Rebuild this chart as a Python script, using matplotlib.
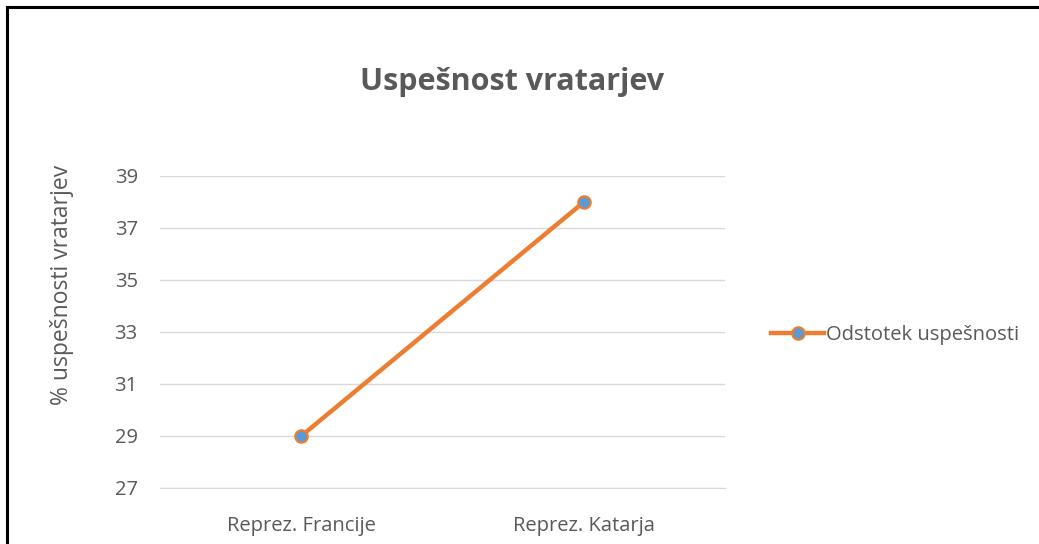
import matplotlib.pyplot as plt
from matplotlib.lines import Line2D

categories = ['Reprez. Francije', 'Reprez. Katarja']
values = [29, 38]
yticks = [27, 29, 31, 33, 35, 37, 39]

plt.rcParams['font.family'] = ['Open Sans', 'DejaVu Sans']
gray = '#595959'
orange = '#ed7d31'
blue = '#5b9bd5'

fig = plt.figure(figsize=(10.39, 5.44), dpi=100)
ax = fig.add_axes([0.154, 0.103, 0.544, 0.5735])

x = range(len(categories))
ax.plot(x, values, color=orange, lw=3.2, marker='o', markersize=9,
        markerfacecolor=blue, markeredgecolor=orange, markeredgewidth=1.5,
        solid_capstyle='round', zorder=3)

ax.set_xlim(-0.5, 1.5)
ax.set_ylim(27, 39)
ax.set_yticks(yticks)
ax.set_xticks(list(x))
ax.set_xticklabels(categories)
ax.grid(axis='y', color='#d9d9d9', lw=1)
for s in ['top', 'right', 'left']:
    ax.spines[s].set_visible(False)
ax.spines['bottom'].set_color('#d9d9d9')
ax.tick_params(length=0, labelsize=14.5, colors=gray)
ax.tick_params(axis='x', pad=20)
ax.tick_params(axis='y', pad=16)

fig.text(0.493, 0.85, 'Uspešnost vratarjev', ha='center', va='center',
         fontsize=22, fontweight='bold', color=gray)
fig.text(0.06, 0.476, '% uspešnosti vratarjev', ha='center', va='center',
         rotation=90, fontsize=16.5, color=gray)

handle = Line2D([], [], color=orange, lw=3.2, marker='o', markersize=9,
                markerfacecolor=blue, markeredgecolor=orange, markeredgewidth=1.5)
fig.legend([handle], ['Odstotek uspešnosti'], loc='center left',
           bbox_to_anchor=(0.725, 0.385), frameon=False, fontsize=14.5,
           labelcolor=gray, handlelength=2.6, handletextpad=0.1)

# frame lines (top and left visible in screenshot)
fig.add_artist(Line2D([0.007, 0.007], [0, 0.988], color='black', lw=2.2,
                      transform=fig.transFigure))
fig.add_artist(Line2D([0.007, 1], [0.988, 0.988], color='black', lw=2.2,
                      transform=fig.transFigure))

fig.savefig('out.png', dpi=100, facecolor='white')
